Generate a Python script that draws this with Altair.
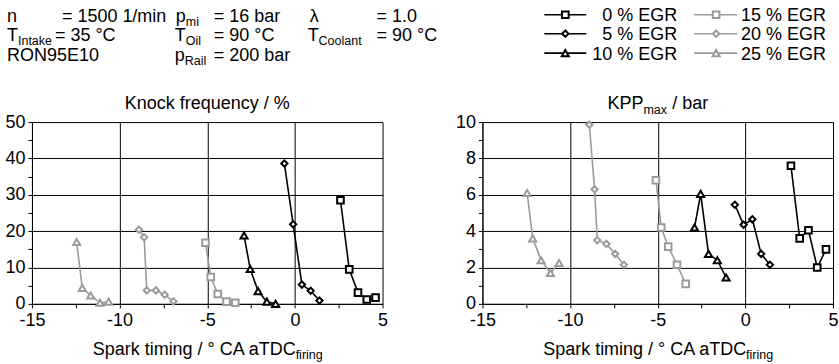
import altair as alt
import pandas as pd

FONT = "Liberation Sans"
FS = 18      # main text size
FS_SUB = 12.5  # subscript size
INK = "#000000"
GREY = "#9b9b9b"

# Series
egr_labels = ["0 % EGR", "5 % EGR", "10 % EGR", "15 % EGR", "20 % EGR", "25 % EGR"]
egr_colors = [INK, INK, INK, GREY, GREY, GREY]
egr_shapes = ["square", "diamond", "triangle-up", "square", "diamond", "triangle-up"]

# Spark timing / °CA aTDC firing
spark = {
    "0 % EGR": [2.6, 3.1, 3.6, 4.1, 4.6],
    "5 % EGR": [-0.6, -0.1, 0.4, 0.9, 1.4],
    "10 % EGR": [-2.9, -2.55, -2.1, -1.6, -1.1],
    "15 % EGR": [-5.1, -4.8, -4.4, -3.9, -3.4],
    "20 % EGR": [-8.9, -8.6, -8.45, -7.93, -7.43, -6.93],
    "25 % EGR": [-12.45, -12.13, -11.65, -11.12, -10.63],
}
# Knock frequency / %
knock = {
    "0 % EGR": [28.5, 9.5, 3.1, 1.2, 1.7],
    "5 % EGR": [38.6, 21.9, 5.3, 3.6, 0.9],
    "10 % EGR": [18.8, 9.6, 3.5, 0.6, 0.0],
    "15 % EGR": [16.8, 7.4, 2.7, 0.6, 0.3],
    "20 % EGR": [20.4, 18.3, 3.7, 3.7, 2.5, 0.7],
    "25 % EGR": [17.0, 4.4, 2.3, 0.3, 0.6],
}
# KPP max / bar
kpp = {
    "0 % EGR": [7.6, 3.6, 4.05, 2.0, 3.0],
    "5 % EGR": [5.45, 4.35, 4.65, 2.75, 2.15],
    "10 % EGR": [4.2, 6.05, 2.75, 2.4, 1.45],
    "15 % EGR": [6.8, 4.2, 3.15, 2.15, 1.1],
    "20 % EGR": [9.85, 6.3, 3.5, 3.3, 2.75, 2.15],
    "25 % EGR": [6.1, 3.6, 2.4, 1.7, 2.25],
}

rows = []
for name in egr_labels:
    for i, (s, k, p) in enumerate(zip(spark[name], knock[name], kpp[name])):
        rows.append({"egr": name, "step": i, "spark": s, "knock": k, "kpp": p})
df = pd.DataFrame(rows)
one = pd.DataFrame({"k": [0]})

W, H = 351, 182
MSIZE = {"square": 44, "diamond": 40, "triangle-up": 50}

color_scale = alt.Scale(domain=egr_labels, range=egr_colors)


def x_axis():
    return alt.Axis(
        values=[-15 + 2.5 * i for i in range(9)],
        labelExpr="datum.value % 5 === 0 ? '' + datum.value : ''",
        gridOpacity={"condition": {"test": "datum.value % 5 === 0", "value": 1}, "value": 0},
        labelPadding=4,
        title=None,
    )


def y_axis(top, major):
    minor = major / 2
    n = int(round(top / minor))
    return alt.Axis(
        values=[round(minor * i, 6) for i in range(n + 1)],
        labelExpr=f"datum.value % {major} === 0 ? '' + datum.value : ''",
        gridOpacity={"condition": {"test": f"datum.value % {major} === 0", "value": 1}, "value": 0},
        labelPadding=3,
        title=None,
    )


def text(s, x, y, size=FS, align="left"):
    return alt.Chart(one).mark_text(
        text=s, font=FONT, fontSize=size, align=align, baseline="alphabetic", color=INK
    ).encode(x=alt.value(x), y=alt.value(y))


def spacer(x1, x2, y):
    # invisible rule that fixes the panel's outer bounds
    return alt.Chart(one).mark_rule(strokeOpacity=0).encode(
        x=alt.value(x1), x2=alt.value(x2), y=alt.value(y)
    )


def data_layers(field, top, major):
    base = alt.Chart(df).encode(
        x=alt.X("spark:Q", scale=alt.Scale(domain=[-15, 5], nice=False, zero=False), axis=x_axis()),
        y=alt.Y(f"{field}:Q", scale=alt.Scale(domain=[0, top], nice=False), axis=y_axis(top, major)),
    )
    lines = base.mark_line(strokeWidth=1.6).encode(
        stroke=alt.Stroke("egr:N", scale=color_scale, legend=None),
        detail="egr:N",
        order="step:Q",
    )
    pts = []
    for name, shp in zip(egr_labels, egr_shapes):
        pts.append(
            base.transform_filter(alt.datum.egr == name).mark_point(
                shape=shp, size=MSIZE[shp], filled=True, fill="white", opacity=1,
                strokeWidth=2,
            ).encode(stroke=alt.Stroke("egr:N", scale=color_scale, legend=None))
        )
    return [lines] + pts


def x_title():
    x0 = 264
    return [text("Spark timing / ° CA aTDC", x0, 233, align="right"),
            text("firing", x0, 237.5, size=FS_SUB)]


# ---- left panel: knock frequency + operating point header
B1, B2, B3 = -100, -81, -61
SUB = 3.5
header = [
    text("n", -25, B1), text("= 1500 1/min", 30, B1),
    text("p", 144, B1), text("mi", 154, B1 + SUB, FS_SUB), text("= 16 bar", 182, B1),
    text("λ", 278, B1), text("= 1.0", 345, B1),
    text("T", -25, B2), text("Intake", -14, B2 + SUB, FS_SUB), text("= 35 °C", 23, B2),
    text("T", 143, B2), text("Oil", 154, B2 + SUB, FS_SUB), text("= 90 °C", 182, B2),
    text("T", 276, B2), text("Coolant", 287, B2 + SUB, FS_SUB), text("= 90 °C", 345, B2),
    text("RON95E10", -25, B3),
    text("p", 143, B3), text("Rail", 153, B3 + SUB, FS_SUB), text("= 200 bar", 182, B3),
]

left = alt.layer(
    *data_layers("knock", 50, 10),
    *header,
    text("Knock frequency / %", W / 2, -13, align="center"),
    *x_title(),
    spacer(-32, 420, -122),
).properties(width=W, height=H)

# ---- right panel: KPP max + legend
legend = []
rows_y = [-107.5, -88.5, -69]
for idx, (name, col, shp) in enumerate(zip(egr_labels, egr_colors, egr_shapes)):
    ry = rows_y[idx % 3]
    if idx < 3:
        lx1, lx2, mx = 62, 104, 83
        lab = text(name, 195, ry + 6.5, align="right")
    else:
        lx1, lx2, mx = 212, 255, 234
        lab = text(name, 259, ry + 6.5)
    legend.append(alt.Chart(one).mark_rule(stroke=col, strokeWidth=1.6).encode(
        x=alt.value(lx1), x2=alt.value(lx2), y=alt.value(ry)))
    legend.append(alt.Chart(one).mark_point(
        shape=shp, size=MSIZE[shp], filled=True, fill="white", stroke=col,
        strokeWidth=2, opacity=1).encode(x=alt.value(mx), y=alt.value(ry)))
    legend.append(lab)

right = alt.layer(
    *data_layers("kpp", 10, 2),
    *legend,
    text("KPP", 161.2, -13, align="right"),
    text("max", 161.2, -8.5, size=FS_SUB),
    text("/ bar", 190, -13),
    *x_title(),
    spacer(-30, 10, -122),
).properties(width=W, height=H)

chart = alt.hconcat(left, right, spacing=1).properties(
    padding={"left": 0, "top": 0, "right": 0, "bottom": 0}
).configure_view(stroke=None).configure_axis(
    gridColor=INK, gridWidth=1, domainColor=INK, domainWidth=1,
    tickColor=INK, tickSize=4, tickWidth=1,
    labelFont=FONT, labelFontSize=FS, labelColor=INK,
    labelOverlap=False, labelFlush=False,
)

chart.save("out.html", embed_options={"renderer": "svg", "actions": False})
